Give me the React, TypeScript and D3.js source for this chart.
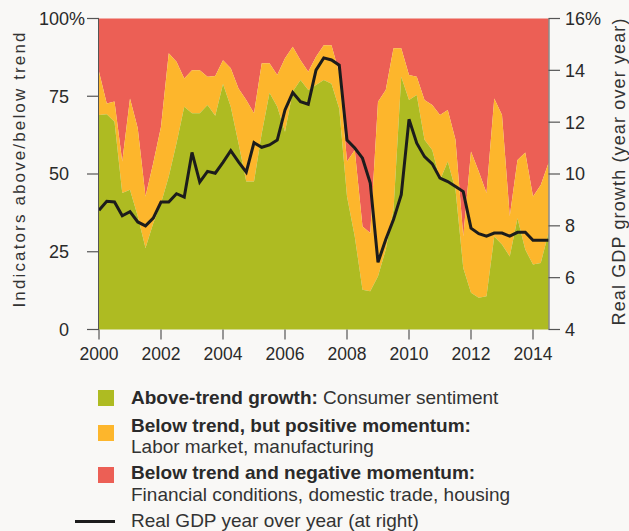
import React from "react";
import * as d3 from "d3";

// Quarterly observations, 2000 Q1 – 2014 Q3
const quarters: number[] = d3.range(59).map((i) => 2000 + i / 4);

// Share of indicators (%) — cumulative tops of each band
const aboveTrend: number[] = [
  69.0, 69.2, 66.8, 43.9, 44.9, 36.4, 26.2, 34.2, 40.6, 49.2,
  59.9, 71.6, 69.5, 69.5, 72.2, 68.7, 78.9, 71.6, 59.9, 47.6,
  47.6, 63.1, 76.1, 71.6, 63.6, 76.5, 80.2, 77.0, 78.6, 80.2,
  79.0, 71.0, 42.8, 29.9, 12.8, 12.3, 17.1, 25.7, 38.5, 81.3,
  73.8, 75.4, 61.0, 57.7, 48.0, 54.0, 44.9, 19.8, 11.8, 10.2,
  10.7, 29.9, 27.3, 23.5, 35.8, 25.7, 20.9, 21.4, 31.0,
];
const belowPositiveTop: number[] = [
  82.9, 72.7, 73.3, 54.0, 74.3, 64.7, 42.8, 53.5, 65.2, 88.8,
  86.1, 80.7, 83.4, 83.4, 81.3, 81.5, 86.6, 84.0, 77.5, 73.8,
  69.5, 85.6, 85.6, 81.8, 87.2, 90.9, 86.6, 82.9, 87.7, 91.4,
  91.4, 82.4, 54.0, 57.7, 33.1, 31.0, 73.2, 77.0, 90.4, 90.4,
  81.8, 81.3, 73.8, 72.2, 69.0, 70.6, 61.0, 29.9, 57.2, 50.8,
  43.9, 74.3, 69.0, 36.4, 54.5, 56.9, 42.8, 46.5, 53.5,
];
// Real GDP, % year over year
const gdp: number[] = [
  8.6, 8.95, 8.92, 8.39, 8.55, 8.15, 8.0, 8.3, 8.92, 8.92,
  9.24, 9.11, 10.83, 9.69, 10.1, 10.03, 10.45, 10.9, 10.47, 10.07,
  11.21, 11.03, 11.12, 11.31, 12.47, 13.14, 12.79, 12.69, 14.01, 14.48,
  14.4, 14.2, 11.31, 11.0, 10.61, 9.65, 6.59, 7.47, 8.24, 9.2,
  12.11, 11.19, 10.67, 10.39, 9.84, 9.71, 9.52, 9.32, 7.91, 7.7,
  7.6, 7.72, 7.72, 7.6, 7.75, 7.75, 7.44, 7.44, 7.44,
];

const xTicks: number[] = [2000, 2002, 2004, 2006, 2008, 2010, 2012, 2014];
const leftTicks: number[] = [0, 25, 50, 75, 100];
const rightTicks: number[] = [4, 6, 8, 10, 12, 14, 16];

const GREEN = "#aebb22";
const YELLOW = "#fdb62c";
const RED = "#ec5f55";
const BG = "#f9f8f6";
const FONT = "'Liberation Sans', Arial, Helvetica, sans-serif";

export default function App() {
  const W = 629;
  const H = 531;
  const x = d3.scaleLinear().domain([2000, 2014.5]).range([99, 548.5]);
  const yL = d3.scaleLinear().domain([0, 100]).range([329.5, 18.5]);
  const yR = d3.scaleLinear().domain([4, 16]).range([329.5, 18.5]);

  const idx = quarters.map((_, i) => i);
  const redArea = d3
    .area<number>()
    .x((i) => x(quarters[i]))
    .y0((i) => yL(belowPositiveTop[i]))
    .y1(() => yL(100))(idx);
  const yellowArea = d3
    .area<number>()
    .x((i) => x(quarters[i]))
    .y0((i) => yL(aboveTrend[i]))
    .y1((i) => yL(belowPositiveTop[i]))(idx);
  const greenArea = d3
    .area<number>()
    .x((i) => x(quarters[i]))
    .y0(() => yL(0))
    .y1((i) => yL(aboveTrend[i]))(idx);
  const gdpLine = d3
    .line<number>()
    .x((i) => x(quarters[i]))
    .y((i) => yR(gdp[i]))(idx);

  const x0 = x(2000);
  const x1 = x(2014.5);
  const tickColor = "#555";
  const textColor = "#2a2a2a";

  const legendX = 131;
  return (
    <svg
      width={W}
      height={H}
      style={{ position: "fixed", left: 0, top: 0, background: BG, fontFamily: FONT }}
    >
      <rect x={0} y={0} width={W} height={H} fill={BG} />
      <path d={redArea || ""} fill={RED} />
      <path d={yellowArea || ""} fill={YELLOW} />
      <path d={greenArea || ""} fill={GREEN} />
      <path
        d={gdpLine || ""}
        fill="none"
        stroke="#1c1c1c"
        strokeWidth={3}
        strokeLinejoin="miter"
      />

      {/* axes lines */}
      <line x1={x0 - 0.5} x2={x0 - 0.5} y1={yL(100)} y2={yL(0)} stroke={tickColor} strokeWidth={1} />
      <line x1={x1 + 0.5} x2={x1 + 0.5} y1={yL(100)} y2={yL(0)} stroke={tickColor} strokeWidth={1} />

      {/* left ticks */}
      {leftTicks.map((t) => (
        <g key={"l" + t}>
          <line x1={87} x2={x0} y1={yL(t)} y2={yL(t)} stroke={tickColor} strokeWidth={1.2} />
          <text x={69} y={yL(t)} dy="0.36em" textAnchor="end" fontSize={18} fill={textColor}>
            {t}
          </text>
          {t === 100 && (
            <text x={69} y={yL(t)} dy="0.36em" textAnchor="start" fontSize={18} fill={textColor}>
              %
            </text>
          )}
        </g>
      ))}

      {/* right ticks */}
      {rightTicks.map((t) => (
        <g key={"r" + t}>
          <line x1={x1} x2={560} y1={yR(t)} y2={yR(t)} stroke={tickColor} strokeWidth={1.2} />
          <text x={565} y={yR(t)} dy="0.36em" textAnchor="start" fontSize={18} fill={textColor}>
            {t === 16 ? "16%" : t}
          </text>
        </g>
      ))}

      {/* bottom ticks */}
      {xTicks.map((t) => (
        <g key={"x" + t}>
          <line x1={x(t)} x2={x(t)} y1={yL(0)} y2={yL(0) + 10} stroke={tickColor} strokeWidth={1.2} />
          <text x={x(t)} y={360} textAnchor="middle" fontSize={17.5} fill={textColor}>
            {t}
          </text>
        </g>
      ))}

      {/* axis titles */}
      <text
        transform={`translate(24.5, 170) rotate(-90)`}
        textAnchor="middle"
        fontSize={17}
        fill="#333"
        textLength={275}
        lengthAdjust="spacing"
      >
        Indicators above/below trend
      </text>
      <text
        transform={`translate(624.5, 172) rotate(-90)`}
        textAnchor="middle"
        fontSize={18}
        fill="#333"
        textLength={307}
        lengthAdjust="spacing"
      >
        Real GDP growth (year over year)
      </text>

      {/* legend */}
      <rect x={98} y={390} width={16} height={16} fill={GREEN} />
      <text x={legendX} y={404} fontSize={19} fill={textColor}>
        <tspan fontWeight="bold">Above-trend growth:</tspan>
        <tspan fill="#333"> Consumer sentiment</tspan>
      </text>

      <rect x={98} y={425} width={16} height={16} fill={YELLOW} />
      <text x={legendX} y={432} fontSize={19} fontWeight="bold" fill={textColor}>
        Below trend, but positive momentum:
      </text>
      <text x={legendX} y={453} fontSize={19} fill="#333">
        Labor market, manufacturing
      </text>

      <rect x={98} y={467} width={16} height={16} fill={RED} />
      <text x={legendX} y={479} fontSize={19} fontWeight="bold" fill={textColor}>
        Below trend and negative momentum:
      </text>
      <text x={legendX} y={501} fontSize={19} fill="#333">
        Financial conditions, domestic trade, housing
      </text>

      <line x1={75} x2={115} y1={521.5} y2={521.5} stroke="#1c1c1c" strokeWidth={3} />
      <text x={legendX} y={527} fontSize={19} fill="#333">
        Real GDP year over year (at right)
      </text>
    </svg>
  );
}
